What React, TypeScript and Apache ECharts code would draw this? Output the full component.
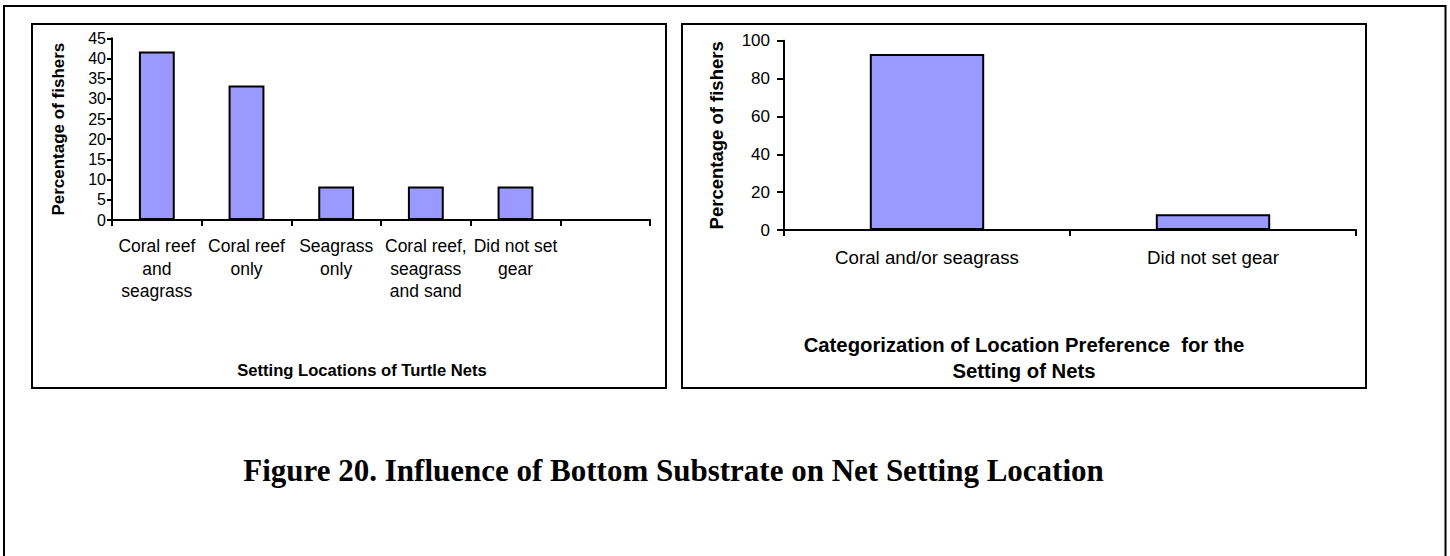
import React, { useEffect, useRef } from "react";
import * as echarts from "echarts";

// Left panel: where fishers set their turtle nets
const substrateCategories = [
  "Coral reef\nand\nseagrass",
  "Coral reef\nonly",
  "Seagrass\nonly",
  "Coral reef,\nseagrass\nand sand",
  "Did not set\ngear",
  "",
];
const substrateShares: (number | null)[] = [41.7, 33.3, 8.3, 8.3, 8.3, null];
const substrateAxisMax = 45;
const substrateAxisStep = 5;

// Right panel: the same answers grouped into two classes
const preferenceCategories = ["Coral and/or seagrass", "Did not set gear"];
const preferenceShares = [93, 8.3];
const preferenceAxisMax = 100;
const preferenceAxisStep = 20;

const yAxisTitle = "Percentage of fishers";
const leftPanelTitle = "Setting Locations of Turtle Nets";
const rightPanelTitle = "Categorization of Location Preference  for the\nSetting of Nets";
const figureCaption = "Figure 20. Influence of Bottom Substrate on Net Setting Location";

const SANS = '"Liberation Sans", Arial, Helvetica, sans-serif';
const SERIF = '"Liberation Serif", "Times New Roman", Times, serif';
const BAR_FILL = "#9999FF";

export default function App() {
  const ref = useRef<HTMLDivElement>(null);

  useEffect(() => {
    if (!ref.current) return;
    const chart = echarts.init(ref.current, undefined, { renderer: "svg" });

    const axisLine = { show: true, lineStyle: { color: "#000", width: 2 } };

    chart.setOption({
      animation: false,
      backgroundColor: "#fff",
      grid: [
        { left: 112, top: 38.3, width: 538, height: 181.7, containLabel: false },
        { left: 784, top: 40.7, width: 572, height: 189.3, containLabel: false },
      ],
      xAxis: [
        {
          type: "category",
          gridIndex: 0,
          data: substrateCategories,
          axisLine,
          axisTick: { show: true, length: 6, interval: 0, lineStyle: { color: "#000", width: 2 } },
          axisLabel: {
            interval: 0,
            margin: 15,
            color: "#000",
            fontFamily: SANS,
            fontSize: 17.5,
            lineHeight: 22.5,
            align: "center",
          },
          splitLine: { show: false },
        },
        {
          type: "category",
          gridIndex: 1,
          data: preferenceCategories,
          axisLine,
          axisTick: { show: true, length: 6, interval: 0, lineStyle: { color: "#000", width: 2 } },
          axisLabel: {
            interval: 0,
            margin: 16,
            color: "#000",
            fontFamily: SANS,
            fontSize: 18.7,
            lineHeight: 22,
          },
          splitLine: { show: false },
        },
      ],
      yAxis: [
        {
          type: "value",
          gridIndex: 0,
          min: 0,
          max: substrateAxisMax,
          interval: substrateAxisStep,
          axisLine,
          axisTick: { show: true, length: 5, lineStyle: { color: "#000", width: 2 } },
          axisLabel: { margin: 6, color: "#000", fontFamily: SANS, fontSize: 16 },
          splitLine: { show: false },
          name: yAxisTitle,
          nameLocation: "middle",
          nameGap: 45,
          nameTextStyle: { color: "#000", fontFamily: SANS, fontSize: 17, fontWeight: "bold" },
        },
        {
          type: "value",
          gridIndex: 1,
          min: 0,
          max: preferenceAxisMax,
          interval: preferenceAxisStep,
          axisLine,
          axisTick: { show: true, length: 7, lineStyle: { color: "#000", width: 2 } },
          axisLabel: { margin: 14, color: "#000", fontFamily: SANS, fontSize: 17 },
          splitLine: { show: false },
          name: yAxisTitle,
          nameLocation: "middle",
          nameGap: 58,
          nameTextStyle: { color: "#000", fontFamily: SANS, fontSize: 18.5, fontWeight: "bold" },
        },
      ],
      series: [
        {
          type: "bar",
          xAxisIndex: 0,
          yAxisIndex: 0,
          data: substrateShares,
          barWidth: "40%",
          itemStyle: { color: BAR_FILL, borderColor: "#000", borderWidth: 2 },
        },
        {
          type: "bar",
          xAxisIndex: 1,
          yAxisIndex: 1,
          data: preferenceShares,
          barWidth: "40%",
          itemStyle: { color: BAR_FILL, borderColor: "#000", borderWidth: 2 },
        },
      ],
      graphic: [
        // page frame (open at the bottom edge)
        {
          type: "rect",
          shape: { x: 4, y: 6, width: 1441.5, height: 600 },
          style: { fill: "none", stroke: "#000", lineWidth: 2 },
          silent: true,
        },
        // chart frames
        {
          type: "rect",
          shape: { x: 32, y: 24, width: 634, height: 364 },
          style: { fill: "none", stroke: "#000", lineWidth: 2 },
          silent: true,
        },
        {
          type: "rect",
          shape: { x: 682, y: 24, width: 684, height: 364 },
          style: { fill: "none", stroke: "#000", lineWidth: 2 },
          silent: true,
        },
        {
          type: "text",
          x: 362,
          y: 370,
          style: {
            text: leftPanelTitle,
            fill: "#000",
            fontFamily: SANS,
            fontSize: 16.6,
            fontWeight: "bold",
            textAlign: "center",
            textVerticalAlign: "middle",
          },
        },
        {
          type: "text",
          x: 1024,
          y: 358,
          style: {
            text: rightPanelTitle,
            fill: "#000",
            fontFamily: SANS,
            fontSize: 20.3,
            fontWeight: "bold",
            lineHeight: 25.7,
            textAlign: "center",
            textVerticalAlign: "middle",
          },
        },
        {
          type: "text",
          x: 673.5,
          y: 470,
          style: {
            text: figureCaption,
            fill: "#000",
            fontFamily: SERIF,
            fontSize: 31,
            fontWeight: "bold",
            textAlign: "center",
            textVerticalAlign: "middle",
          },
        },
      ],
    });

    return () => chart.dispose();
  }, []);

  return (
    <div
      ref={ref}
      style={{ position: "fixed", left: 0, top: 0, width: 1450, height: 556, background: "#fff" }}
    />
  );
}
